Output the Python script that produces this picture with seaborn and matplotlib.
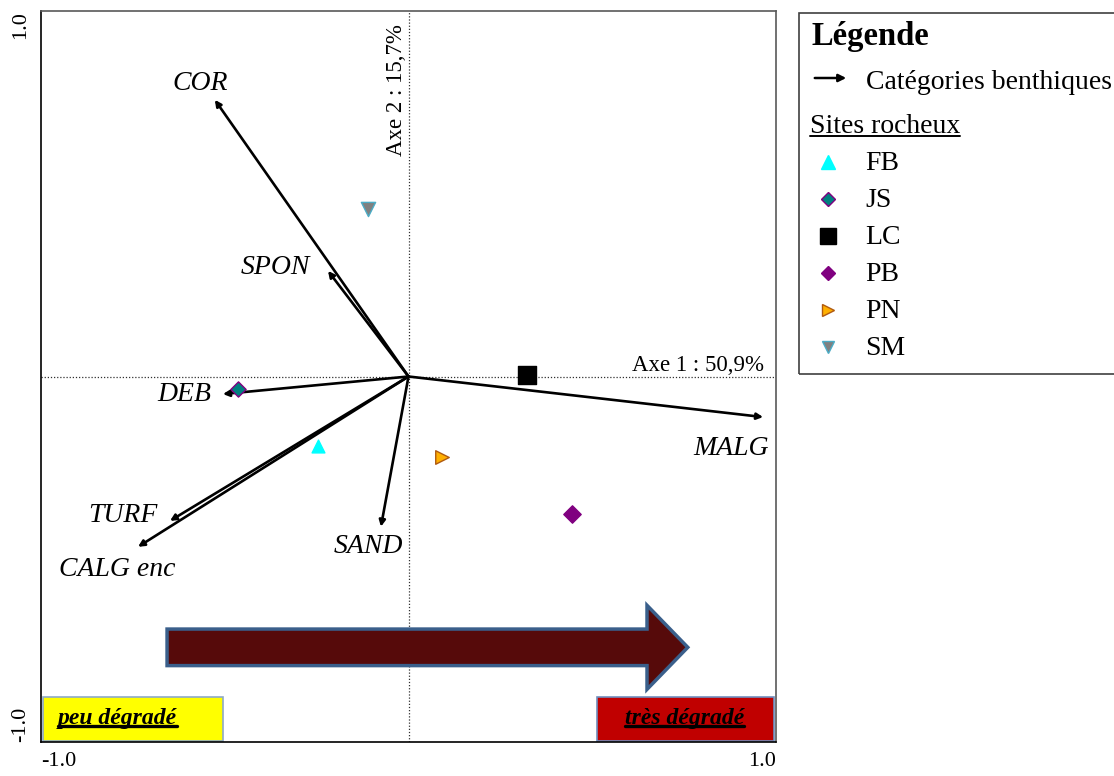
import matplotlib
matplotlib.use("Agg")
import matplotlib.pyplot as plt
from matplotlib.patches import FancyArrow, FancyArrowPatch, Rectangle
from matplotlib.lines import Line2D
import pandas as pd
import seaborn as sns

# Benthic categories: loadings on the first two axes
categories = ["COR", "SPON", "DEB", "TURF", "CALG enc", "SAND", "MALG"]
cat_axis1 = [-0.527, -0.219, -0.505, -0.649, -0.736, -0.075, 0.965]
cat_axis2 = [0.757, 0.289, -0.048, -0.395, -0.466, -0.411, -0.111]

# Rocky sites: scores on the first two axes
sites = ["FB", "JS", "LC", "PB", "PN", "SM"]
site_axis1 = [-0.246, -0.464, 0.322, 0.445, 0.091, -0.110]
site_axis2 = [-0.190, -0.034, 0.004, -0.376, -0.220, 0.458]

axis1_label = "Axe 1 : 50,9%"
axis2_label = "Axe 2 : 15,7%"
tick_values = [-1.0, -0.5, 0.0, 0.5, 1.0]
tick_labels = ["-1.0", "", "", "", "1.0"]

# label placement relative to the arrow tips
label_offsets = {
    "COR": (-0.040, 0.046), "SPON": (-0.144, 0.008), "DEB": (-0.106, -0.002),
    "TURF": (-0.128, 0.016), "CALG enc": (-0.057, -0.061),
    "SAND": (-0.035, -0.053), "MALG": (-0.087, -0.085),
}

# marker, face colour, edge colour, scatter size, legend size
site_style = {
    "FB": ("^", "#00FFFF", "#00FFFF", 85, 9.5),
    "JS": ("D", "#008080", "#800080", 60, 7.5),
    "LC": ("s", "#000000", "#000000", 160, 11),
    "PB": ("D", "#800080", "#800080", 78, 7.5),
    "PN": (">", "#FFB000", "#B05A10", 95, 8.5),
    "SM": ("v", "#808080", "#4BACC6", 105, 8.5),
}

sns.set_style("white")
plt.rcParams["font.family"] = ["Liberation Serif", "DejaVu Serif"]
plt.rcParams["text.color"] = "black"
plt.rcParams["xtick.color"] = "black"
plt.rcParams["ytick.color"] = "black"
plt.rcParams["axes.labelcolor"] = "black"

W, H = 1114, 776
fig = plt.figure(figsize=(W / 100, H / 100), dpi=100)
ax = fig.add_axes([41 / W, 1 - 742 / H, (776 - 41) / W, (742 - 11) / H])
ax.set_xlim(-1, 1)
ax.set_ylim(-1, 1)


def fx(px):
    return px / W


def fy(py):
    return 1 - py / H


# dotted axis lines through the origin
ax.axvline(0, color="#303030", lw=0.9, ls=(0, (1, 1.5)), zorder=1)
ax.axhline(0, color="#303030", lw=0.9, ls=(0, (1, 1.5)), zorder=1)

# category arrows
for name, x, y in zip(categories, cat_axis1, cat_axis2):
    ax.annotate("", xy=(x, y), xytext=(0, 0),
                arrowprops=dict(arrowstyle="-|>", color="black", lw=1.9,
                                mutation_scale=9, shrinkA=0, shrinkB=0),
                zorder=3)
    dx, dy = label_offsets[name]
    ax.text(x + dx, y + dy, name, style="italic", fontsize=20,
            ha="center", va="center", color="black", zorder=4)

# site scores
df = pd.DataFrame({"site": sites, "ax1": site_axis1, "ax2": site_axis2})
for _, row in df.iterrows():
    m, fc, ec, s, _ = site_style[row["site"]]
    sns.scatterplot(x=[row["ax1"]], y=[row["ax2"]], marker=m, color=fc,
                    edgecolor=ec, linewidth=1.0, s=s, ax=ax, legend=False,
                    zorder=5)

ax.text(-0.034, 0.965, axis2_label, rotation=90, fontsize=16.5,
        ha="center", va="top", color="black", zorder=4)
ax.text(0.967, 0.029, axis1_label, fontsize=16.5, ha="right", va="center",
        color="black", zorder=4)

# gradient arrow and its end boxes
ax.add_patch(FancyArrow(-0.657, -0.741, 1.417, 0, width=0.10,
                        head_width=0.23, head_length=0.111,
                        length_includes_head=True, facecolor="#560A0A",
                        edgecolor="#3A5F8B", lw=2.5, zorder=2))
ax.add_patch(Rectangle((-0.995, -0.997), 0.49, 0.12, facecolor="#FFFF00",
                       edgecolor="#8EA9C8", lw=1.2, zorder=2))
ax.add_patch(Rectangle((0.513, -0.997), 0.482, 0.12, facecolor="#C00000",
                       edgecolor="#6F8FBF", lw=1.2, zorder=2))
t_low = ax.text(-0.793, -0.935, "peu dégradé", fontsize=17, weight="bold",
                style="italic", ha="center", va="center", color="black",
                zorder=4)
t_high = ax.text(0.752, -0.935, "très dégradé", fontsize=17, weight="bold",
                 style="italic", ha="center", va="center", color="black",
                 zorder=4)

# ticks and frame
ax.set_xticks(tick_values)
ax.set_xticklabels(tick_labels)
ax.set_yticks(tick_values)
ax.set_yticklabels(tick_labels, rotation=90)
ax.tick_params(axis="both", direction="out", length=5, width=1,
               labelsize=16, color="black", labelcolor="black")
ax.tick_params(axis="x", pad=2)
ax.tick_params(axis="y", pad=3)
xl = ax.get_xticklabels()
xl[0].set_ha("left")
xl[-1].set_ha("right")
yl = ax.get_yticklabels()
yl[0].set_va("bottom")
yl[-1].set_va("top")
for side in ["left", "bottom"]:
    ax.spines[side].set_color("black")
    ax.spines[side].set_linewidth(1.2)
for side in ["top", "right"]:
    ax.spines[side].set_color("#595959")
    ax.spines[side].set_linewidth(1.2)
ax.set_xlabel("")
ax.set_ylabel("")

# legend panel
fig.add_artist(Rectangle((fx(799), fy(374)), fx(330), (374 - 13) / H,
                         transform=fig.transFigure, fill=False,
                         edgecolor="#404040", lw=1.2, clip_on=False))
fig.text(fx(811), fy(45), "Légende", fontsize=23.5, weight="bold",
         va="baseline", ha="left", color="black")
fig.add_artist(FancyArrowPatch(
    (fx(812), fy(78)), (fx(849), fy(78)), transform=fig.transFigure,
    arrowstyle="-|>", mutation_scale=11, color="black", lw=1.8))
fig.text(fx(866), fy(89), "Catégories benthiques", fontsize=20,
         va="baseline", ha="left", color="black")
t_sites = fig.text(fx(810), fy(133), "Sites rocheux", fontsize=20,
                   va="baseline", ha="left", color="black")
for i, name in enumerate(sites):
    m, fc, ec, _, ms = site_style[name]
    base = 170 + 37 * i
    fig.add_artist(Line2D([fx(828)], [fy(base - 8)], marker=m, markersize=ms,
                          markerfacecolor=fc, markeredgecolor=ec,
                          markeredgewidth=1.0, linestyle="none",
                          transform=fig.transFigure))
    fig.text(fx(865), fy(base), name, fontsize=20, va="baseline", ha="left",
             color="black")

# underlines
fig.canvas.draw()
renderer = fig.canvas.get_renderer()
inv = fig.transFigure.inverted()
for t, lw in [(t_sites, 1.4), (t_low, 2.4), (t_high, 2.4)]:
    bb = t.get_window_extent(renderer).transformed(inv)
    yline = bb.y0 + 0.12 * bb.height
    fig.add_artist(Line2D([bb.x0, bb.x1], [yline, yline], color="black",
                          lw=lw, transform=fig.transFigure, zorder=6))

fig.savefig("out.png", dpi=100)
